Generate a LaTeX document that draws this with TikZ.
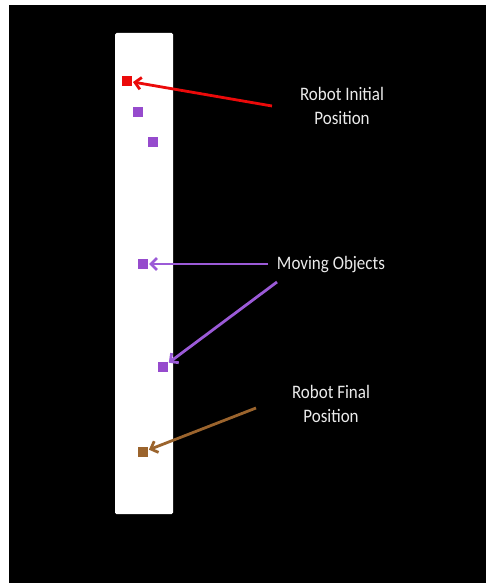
\documentclass[tikz,border=0pt]{standalone}
\usepackage{fontspec}
\setmainfont{Carlito}
\usetikzlibrary{arrows.meta}
\definecolor{robred}{RGB}{235,10,10}
\definecolor{objpurple}{RGB}{150,75,205}
\definecolor{arrpurple}{RGB}{155,90,215}
\definecolor{robbrown}{RGB}{155,100,45}
\tikzset{
  sq/.style={minimum size=10pt, inner sep=0pt, outer sep=0pt, draw=none},
  lab/.style={text=white!92!black, font=\fontsize{17}{21.5}\selectfont, align=center, inner sep=0pt, yscale=1.12},
  pointer/.style={line width=2.8pt, -{Straight Barb[length=6pt,width=12pt]}, shorten >=1pt}
}
\begin{document}
\begin{tikzpicture}[x=1pt,y=-1pt]
\useasboundingbox (0,0) rectangle (486,583);
\fill[white] (0,0) rectangle (486,583);
\fill[black] (9,5) rectangle (486,583);
\fill[white, rounded corners=1.5pt] (115,33) rectangle (173,514);
% squares
\node[sq, fill=robred] (r0) at (127,81) {};
\node[sq, fill=objpurple] (m1) at (138,112) {};
\node[sq, fill=objpurple] (m2) at (153,142) {};
\node[sq, fill=objpurple] (m3) at (143,264) {};
\node[sq, fill=objpurple] (m4) at (163,367) {};
\node[sq, fill=robbrown] (rf) at (143,452) {};
% labels
\node[lab, transform shape] (tinit) at (342,106) {Robot Initial\\Position};
\node[lab, transform shape] (tmov) at (331,265) {Moving Objects};
\node[lab, transform shape] (tfin) at (331,404) {Robot Final\\Position};
% tails
\coordinate (a1) at (272,106);
\coordinate (a2) at (268,264);
\coordinate (a3) at (277,282);
\coordinate (a4) at (256,408);
% arrows
\draw[pointer, robred] (a1) -- (r0);
\draw[pointer, arrpurple] (a2) -- (m3);
\draw[pointer, arrpurple] (a3) -- (m4);
\draw[pointer, robbrown] (a4) -- (rf);
\end{tikzpicture}
\end{document}
